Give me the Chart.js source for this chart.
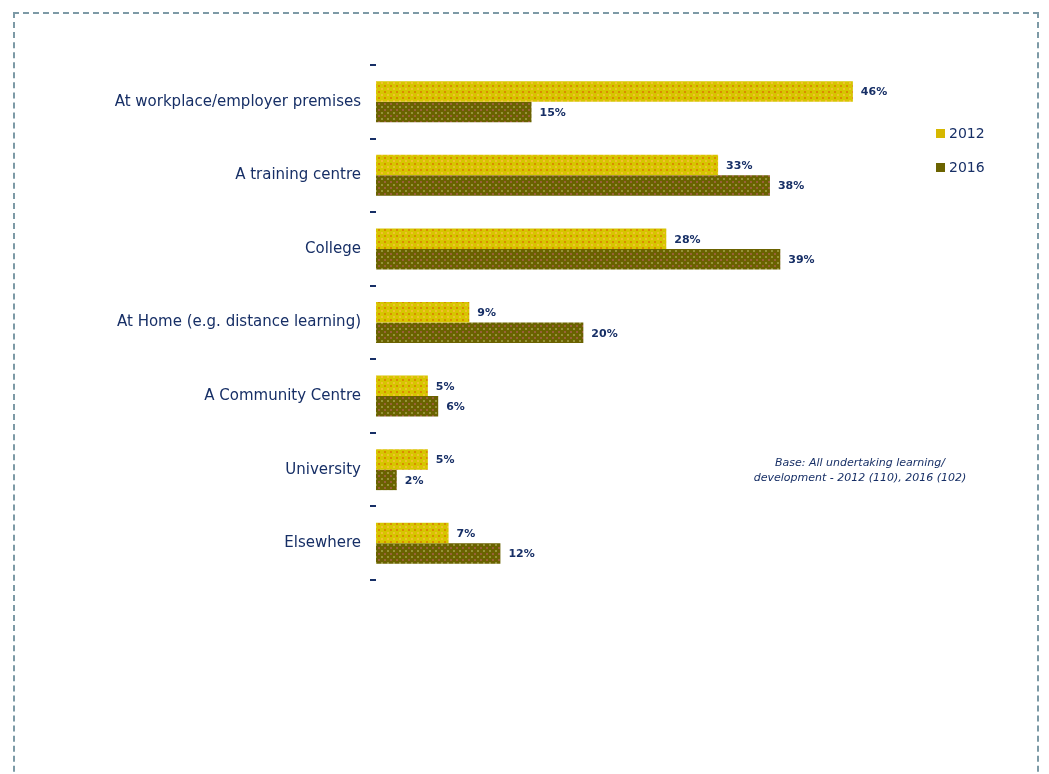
<!DOCTYPE html>
<html>
<head>
<meta charset="utf-8">
<script src="https://cdn.jsdelivr.net/npm/chart.js@4/dist/chart.umd.min.js"></script>
<style>
  html, body { margin: 0; padding: 0; background: #fff; overflow: hidden; }
  #wrap { position: relative; width: 1049px; height: 774px; }
  #frame {
    position: absolute; left: 13px; top: 12px; width: 1026px; height: 800px;
    border: 2px dashed #7d9aa6; box-sizing: border-box;
  }
  canvas { position: absolute; left: 0; top: 0; }
</style>
</head>
<body>
<div id="wrap">
  <div id="frame"></div>
  <canvas id="chart" width="1049" height="774"></canvas>
</div>
<script>
// Where learning took place, 2012 vs 2016 (% of those learning)
const places = [
  'At workplace/employer premises',
  'A training centre',
  'College',
  'At Home (e.g. distance learning)',
  'A Community Centre',
  'University',
  'Elsewhere',
];
const years = ['2012', '2016'];
const values2012 = [46, 33, 28, 9, 5, 5, 7];
const values2016 = [15, 38, 39, 20, 6, 2, 12];
const baseNote = [
  'Base: All undertaking learning/',
  'development - 2012 (110), 2016 (102)',
];

const navy = '#172f66';

// small dithered tiles so the bars get the speckled fill
function makePattern(base, dotA, dotB) {
  const c = document.createElement('canvas');
  c.width = 6; c.height = 6;
  const g = c.getContext('2d');
  g.fillStyle = base; g.fillRect(0, 0, 6, 6);
  g.fillStyle = dotA; g.fillRect(0, 1, 2, 2);
  g.fillStyle = dotB; g.fillRect(3, 4, 2, 2);
  return g.createPattern(c, 'repeat');
}
const fill2012 = makePattern('#d6c600', '#d98c00', '#f2c030');
const fill2016 = makePattern('#6a6200', '#98603a', '#959238');
const swatch = ['#d6b800', '#6b6300'];

const valueLabels = {
  id: 'valueLabels',
  afterDatasetsDraw(chart) {
    const ctx = chart.ctx;
    ctx.save();
    ctx.font = 'bold 11px "DejaVu Sans", sans-serif';
    ctx.fillStyle = navy;
    ctx.textAlign = 'left';
    ctx.textBaseline = 'middle';
    chart.data.datasets.forEach((ds, di) => {
      chart.getDatasetMeta(di).data.forEach((bar, i) => {
        ctx.fillText(ds.data[i] + '%', bar.x + 8, bar.y + 1);
      });
    });
    ctx.restore();
  },
};

const sideLegend = {
  id: 'sideLegend',
  afterDraw(chart) {
    const ctx = chart.ctx;
    ctx.save();
    ctx.font = '14px "DejaVu Sans", sans-serif';
    ctx.textBaseline = 'middle';
    chart.data.datasets.forEach((ds, i) => {
      const y = 133 + i * 34;
      ctx.fillStyle = swatch[i];
      ctx.fillRect(936, y - 4, 9, 9);
      ctx.fillStyle = navy;
      ctx.fillText(ds.label, 949, y + 1);
    });
    // base note
    ctx.font = 'italic 11px "DejaVu Sans", sans-serif';
    ctx.textAlign = 'center';
    baseNote.forEach((line, i) => ctx.fillText(line, 860, 463 + i * 15));
    ctx.restore();
  },
};

new Chart(document.getElementById('chart'), {
  type: 'bar',
  data: {
    labels: places,
    datasets: [
      { label: years[0], data: values2012, backgroundColor: fill2012 },
      { label: years[1], data: values2016, backgroundColor: fill2016 },
    ],
  },
  options: {
    indexAxis: 'y',
    responsive: false,
    animation: false,
    categoryPercentage: 0.557,
    barPercentage: 1,
    layout: { padding: { top: 65, bottom: 194, left: 0, right: 51 } },
    plugins: {
      legend: { display: false },
      tooltip: { enabled: false },
    },
    scales: {
      x: { display: false, min: 0, max: 60 },
      y: {
        afterFit: s => { s.width = 376; },
        border: { display: false },
        grid: {
          drawOnChartArea: false,
          drawTicks: true,
          tickLength: 6,
          lineWidth: 2,
          color: navy,
          offset: true,
        },
        ticks: {
          padding: 9,
          color: navy,
          font: { family: '"DejaVu Sans", sans-serif', size: 15 },
        },
      },
    },
  },
  plugins: [valueLabels, sideLegend],
});
</script>
</body>
</html>
